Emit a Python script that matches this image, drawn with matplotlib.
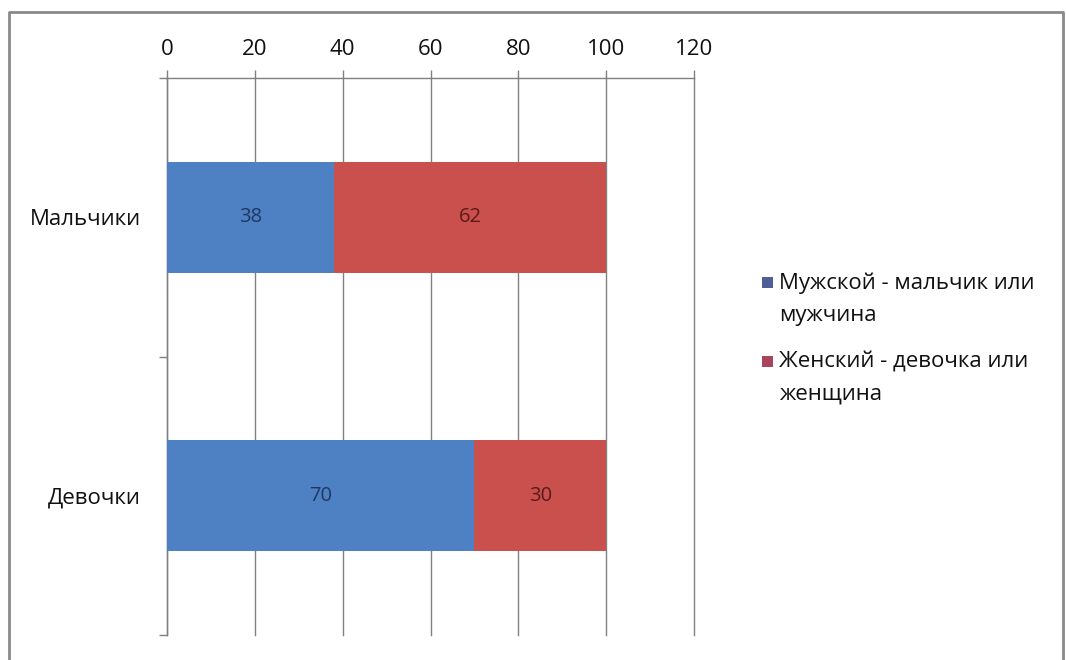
import matplotlib
matplotlib.use("Agg")
import matplotlib.pyplot as plt
from matplotlib.patches import Rectangle
from matplotlib.lines import Line2D
import numpy as np

plt.rcParams['font.family'] = ['Open Sans', 'DejaVu Sans']

categories = ["Мальчики", "Девочки"]
male_values = [38, 70]
female_values = [62, 30]
series_names = ["Мужской - мальчик или\nмужчина", "Женский - девочка или\nженщина"]
x_ticks = [0, 20, 40, 60, 80, 100, 120]

blue = '#4E80C4'
red = '#C9504C'
legend_colors = ['#4F5F96', '#A8445C']

W, H = 1066, 660
fig = plt.figure(figsize=(W/100, H/100), dpi=100)
fig.patch.set_facecolor('white')
ax = fig.add_axes([167/W, 1-635/H, (694-167)/W, (635-78)/H])

y = np.arange(len(categories))
b1 = ax.barh(y, male_values, height=0.4, color=blue, zorder=3)
b2 = ax.barh(y, female_values, left=male_values, height=0.4, color=red, zorder=3)

for rect, v in zip(b1, male_values):
    ax.text(rect.get_x() + rect.get_width()/2, rect.get_y() + rect.get_height()/2, str(v),
            ha='center', va='center', fontsize=14.5, color='#1F3864', zorder=4)
for rect, v in zip(b2, female_values):
    ax.text(rect.get_x() + rect.get_width()/2, rect.get_y() + rect.get_height()/2, str(v),
            ha='center', va='center', fontsize=14.5, color='#5A1A18', zorder=4)

ax.set_xlim(0, 120)
ax.set_ylim(1.5, -0.5)
ax.set_xticks(x_ticks)
ax.xaxis.tick_top()
ax.tick_params(axis='x', direction='out', length=6, width=1, color='#808080',
               labelsize=16, pad=7, labelcolor='#111111')
ax.set_yticks(y)
ax.set_yticklabels(categories)
ax.tick_params(axis='y', which='major', length=0, labelsize=16, pad=19, labelcolor='#111111')
ax.set_yticks([-0.5, 0.5, 1.5], minor=True)
ax.tick_params(axis='y', which='minor', direction='out', length=6, width=1, color='#808080')
ax.grid(axis='x', color='#808080', linewidth=1, zorder=0)
for gl in ax.get_xgridlines():
    gl.set_clip_on(False)
for s in ['right', 'bottom']:
    ax.spines[s].set_visible(False)
for s in ['left', 'top']:
    ax.spines[s].set_color('#808080')
    ax.spines[s].set_linewidth(1)

# legend (marker aligned with first text line, as in the original)
first_line_y = [283, 362]
for name, col, yc in zip(series_names, legend_colors, first_line_y):
    fig.add_artist(Rectangle((762/W, 1-(yc+5)/H), 11/W, 11/H, transform=fig.transFigure,
                             facecolor=col, edgecolor='none'))
    fig.text(779/W, 1-(yc-10)/H, name, ha='left', va='top', fontsize=16,
             linespacing=1.65, color='#111111')

# figure border
fig.add_artist(Line2D([9/W, 9/W, 1063/W, 1063/W], [0, 1-12/H, 1-12/H, 0],
                      transform=fig.transFigure, color='#8a8a8a', linewidth=2))

fig.savefig('out.png', dpi=100, facecolor='white')
